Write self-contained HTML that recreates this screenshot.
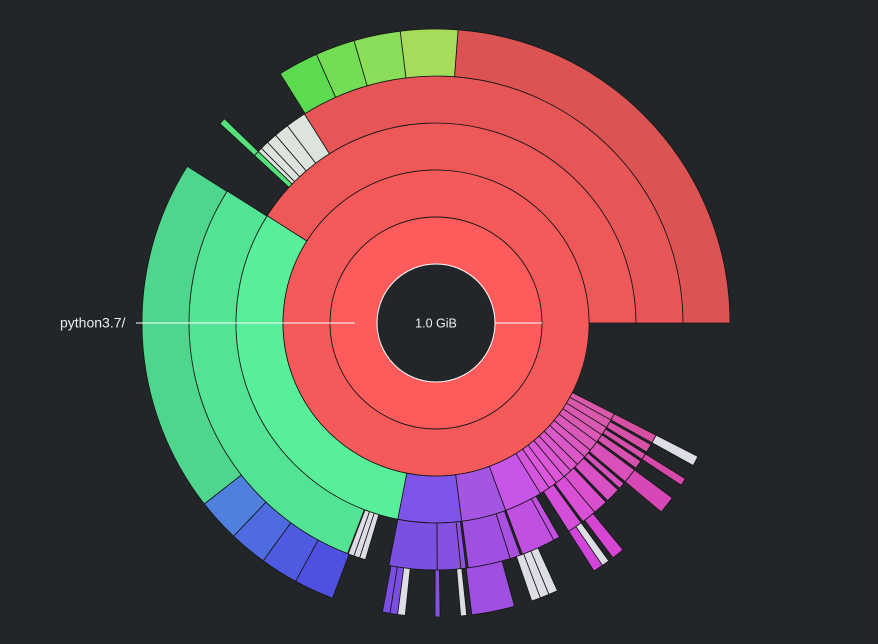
<!DOCTYPE html>
<html><head><meta charset="utf-8"><style>
html,body{margin:0;padding:0;background:#232629;width:878px;height:644px;overflow:hidden}
svg{display:block}
text{font-family:"Liberation Sans",sans-serif;fill:#eee}
</style></head><body>
<svg id="s" width="878" height="644" viewBox="0 0 878 644" xmlns="http://www.w3.org/2000/svg">
<rect width="878" height="644" fill="#232629"/>
<g id="g" stroke="#141414" stroke-width="0.8"></g>
<circle cx="436" cy="323" r="106" fill="none" stroke="#141414" stroke-width="0.9"/>
<circle cx="436" cy="323" r="153" fill="none" stroke="#141414" stroke-width="0.6" stroke-dasharray="0"/>
<circle cx="436" cy="323" r="59" fill="#232629" stroke="#ffffff" stroke-width="1"/>
<line x1="495" y1="323" x2="542" y2="323" stroke="#ffffff" stroke-width="1"/>
<line x1="136" y1="323" x2="355" y2="323" stroke="#ffffff" stroke-width="1"/>
<text x="60" y="327.5" font-size="14">python3.7/</text>
<text x="436" y="327.5" font-size="12.5" text-anchor="middle">1.0 GiB</text>
</svg>
<script>
var CX=436,CY=323;
function pt(r,a){var t=a*Math.PI/180;return (CX+r*Math.cos(t)).toFixed(2)+","+(CY-r*Math.sin(t)).toFixed(2);}
function seg(k,a0,a1,col){
 var r0=59+47*k, r1=r0+47;
 var g=document.getElementById('g');
 if(a1-a0>=359.99){
  var el=document.createElementNS("http://www.w3.org/2000/svg","circle");
  el.setAttribute("cx",CX);el.setAttribute("cy",CY);el.setAttribute("r",(r0+r1)/2);
  el.setAttribute("fill","none");el.setAttribute("stroke",col);el.setAttribute("stroke-width",r1-r0);
  g.appendChild(el);return;
 }
 var large=(a1-a0)>180?1:0;
 var p="M"+pt(r0,a0)+" L"+pt(r1,a0)+" A"+r1+","+r1+" 0 "+large+" 0 "+pt(r1,a1)+" L"+pt(r0,a1)+" A"+r0+","+r0+" 0 "+large+" 1 "+pt(r0,a0)+"Z";
 var e=document.createElementNS("http://www.w3.org/2000/svg","path");
 e.setAttribute("d",p);e.setAttribute("fill",col);g.appendChild(e);
}
function mag(a,k){var t=(a-259)/(333-259);if(t<0)t=0;if(t>1)t=1;var h=258+t*66;var l=60-k*2;var s=70-t*8;return "hsl("+h.toFixed(0)+","+s+"%,"+l+"%)";}
seg(0,0,360,"#fe5c5c");
seg(1,0,360,"#f55a5a");
seg(2,0,147.6,"#ee5858");
seg(3,0,122.2,"#e65656");
seg(4,0,85.7,"#dc5353");
seg(4,85.7,97,"#a5dc5a");seg(4,97,106.2,"#8ade5a");seg(4,106.2,114,"#72dd55");seg(4,114,122,"#5ddb50");
[[122.2,127],[127,130.5],[130.5,133],[133,135],[135,136]].forEach(function(s){seg(3,s[0],s[1],"#dde3dd");});
seg(3,136,137.3,"#55e07a");seg(4,136,137.3,"#55e07a");
seg(2,147.6,259,"#58ee9a");
seg(3,147.7,249,"#52e394");
seg(4,147.8,218,"#4fd68e");
seg(4,218,226.5,"#5080de");seg(4,226.5,234,"#4f6be0");seg(4,234,241.5,"#4e5ae0");seg(4,241.5,249.4,"#5050e0");
seg(3,249.2,250.6,"#dcdce6");seg(3,250.6,252,"#dcdce6");seg(3,252,253.4,"#dcdce6");
seg(2,259,277.4,"#7e55e8");seg(2,277.4,290.4,"#a455e2");seg(2,290.4,301.5,"#c655e8");
var b=[301.5,304.5,307,309.8,312.4,315,318,320.5,323.5,326,328.5,331,333];
for(var i=0;i<b.length-1;i++)seg(2,b[i],b[i+1],mag((b[i]+b[i+1])/2,0));
seg(3,259,270.3,"#7a50e0");seg(3,270.3,275.8,"#8650e0");seg(3,275.8,277,"#9050e0");
seg(3,277.5,287.5,"#a050e0");seg(3,287.5,290,"#aa50e0");seg(3,290.5,298.5,"#c050e0");seg(3,298.5,300,"#c450e0");
seg(4,259.5,261,"#7a4ee0");seg(4,261,262.5,"#7a4ee0");seg(4,262.5,264,"#dddde6");
seg(4,269.8,270.8,"#8650e0");seg(4,274.8,276,"#dddde6");seg(4,277,285.5,"#a050e0");
seg(4,289,290.8,"#dddde6");seg(4,290.8,292.6,"#dddde6");seg(4,292.6,294.4,"#dddde6");
[[302.5,306],[306.5,310],[310,313.5],[314,317.5],[318,319.5],[320,323.5],[324,326],[326.5,328],[328.5,330.5],[331,333]].forEach(function(s){seg(3,s[0],s[1],mag((s[0]+s[1])/2,1));});
seg(4,302.5,304.5,mag(303,2));seg(4,304.5,306,"#dddde6");
seg(4,307,309.5,mag(308,2));seg(4,320,323.5,mag(322,2));seg(4,326.5,328,mag(327,2));
seg(4,331,333,"#dddde6");
</script>
</body></html>
